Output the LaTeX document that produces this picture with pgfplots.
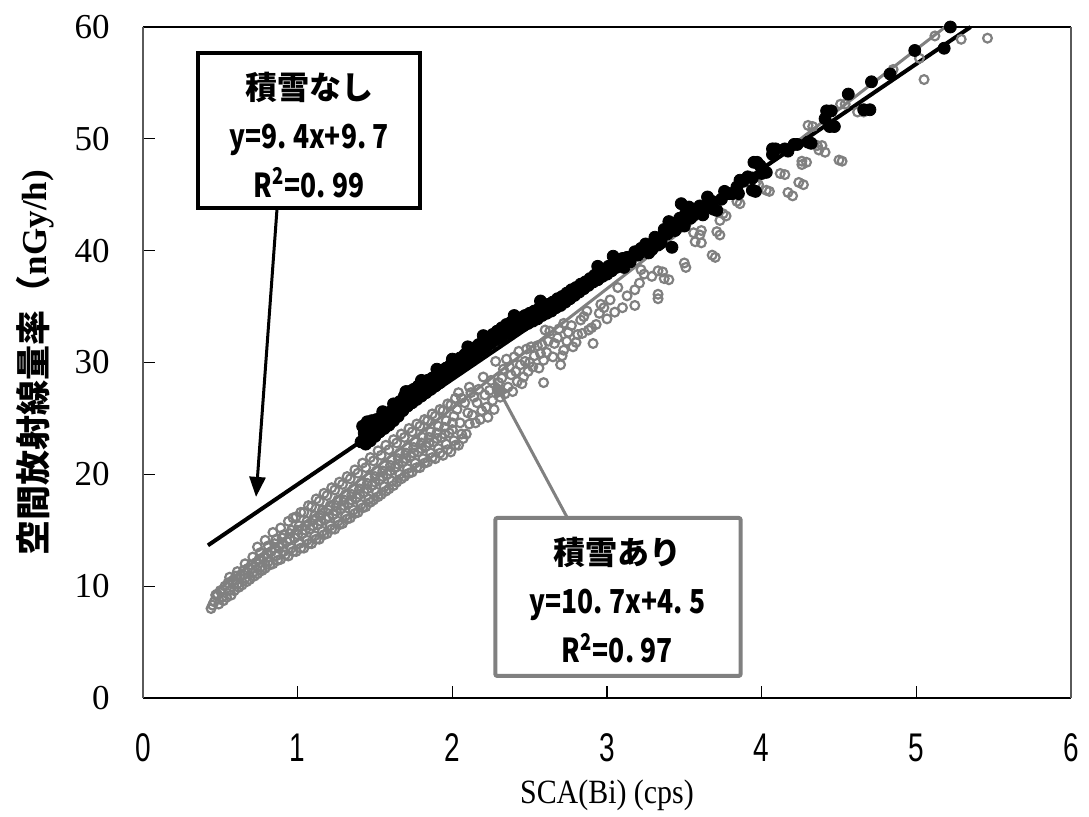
\documentclass[border=0pt]{standalone}
\usepackage{fontspec}
\setmainfont{Liberation Serif}
\newfontfamily\jp{Noto Sans CJK JP}
\newfontfamily\jpc{Noto Sans CJK JP}[FakeStretch=0.8]
\newfontfamily\tickf{Liberation Sans}[FakeStretch=0.7]
\newfontfamily\serifc{Liberation Serif}[FakeStretch=0.88]
\usepackage{pgfplots}
\pgfplotsset{compat=1.18}
\usetikzlibrary{arrows.meta}
\definecolor{grayc}{RGB}{128,128,128}
\begin{document}
\begin{tikzpicture}
\useasboundingbox (-71.5pt,-59.5pt) rectangle (473pt,349pt);
\begin{axis}[
  at={(0pt,0pt)}, anchor=south west,
  scale only axis, width=464pt, height=335.5pt,
  xmin=0, xmax=6, ymin=0, ymax=60,
  xtick={0,1,2,3,4,5,6}, ytick={0,10,20,30,40,50,60},
  xtick pos=bottom, ytick pos=left, tick align=inside,
  major tick length=6pt,
  tick style={black, line width=0.6pt},
  axis line style={draw=none},
  clip=false,
  /pgf/number format/assume math mode=true,
  xticklabel style={font=\tickf\fontsize{20}{22}\selectfont, anchor=center, yshift=-25pt},
  yticklabel style={font=\fontsize{17.5}{18}\selectfont, anchor=east, inner sep=0pt, xshift=-16.5pt},
  xlabel={{\serifc SCA(Bi) (cps)}},
  every axis x label/.style={at={(axis description cs:0.5,-0.1446)}, anchor=center, font=\fontsize{17}{18}\selectfont},
  ylabel={{\jp\bfseries 空間放射線量率（}{\bfseries nGy/h)}},
  every axis y label/.style={at={(axis description cs:-0.1164,0.50)}, rotate=90, anchor=center, font=\fontsize{17.5}{18}\selectfont},
]
% frame
\draw[black, line width=1pt] (rel axis cs:0,0) -- (rel axis cs:1,0);
\draw[black, line width=1pt] (rel axis cs:0,1) -- (rel axis cs:1,1);
\draw[grayc!70!black, line width=1pt] (rel axis cs:0,0) -- (rel axis cs:0,1);
\draw[grayc!70!black, line width=1pt] (rel axis cs:1,0) -- (rel axis cs:1,1);

% snow-covered (gray open circles)
\addplot[only marks, mark=o, mark size=2.2pt, grayc, mark options={line width=1.1pt}] coordinates {
(0.44,8.0)(0.46,8.6)(0.47,9.2)(0.45,8.3)
(0.49,8.4)(0.51,9.0)(0.50,9.6)(0.52,8.7)(0.48,9.3)
(0.54,9.0)(0.56,9.6)(0.55,10.3)(0.57,9.2)(0.53,10.0)(0.56,10.8)
(0.59,9.6)(0.61,10.2)(0.60,10.9)(0.62,9.9)(0.58,10.5)(0.61,11.3)
(0.64,10.1)(0.66,10.7)(0.65,11.4)(0.67,10.4)(0.63,11.0)(0.66,12.0)
(0.69,10.6)(0.71,11.2)(0.70,11.9)(0.72,10.9)(0.68,11.6)(0.71,12.6)
(0.74,11.1)(0.76,11.7)(0.75,12.4)(0.77,11.4)(0.73,12.1)(0.76,13.0)(0.74,13.5)
(0.79,11.6)(0.81,12.2)(0.80,12.9)(0.82,11.9)(0.78,12.6)(0.81,13.6)(0.79,14.1)
(0.84,12.0)(0.86,12.7)(0.85,13.4)(0.87,12.3)(0.83,13.1)(0.86,14.2)(0.84,14.8)(0.85,13.8)
(0.89,12.4)(0.91,13.1)(0.90,13.8)(0.92,12.8)(0.88,13.5)(0.91,14.6)(0.89,15.2)(0.90,14.3)
(0.94,12.7)(0.96,13.4)(0.95,14.2)(0.97,13.1)(0.93,14.0)(0.96,15.0)(0.94,15.8)(0.95,14.7)(0.97,16.1)
(0.99,13.1)(1.01,13.8)(1.00,14.6)(1.02,13.4)(0.98,14.3)(1.01,15.4)(0.99,16.2)(1.00,15.0)(1.02,16.6)
(1.04,13.4)(1.06,14.1)(1.05,15.0)(1.07,13.8)(1.03,14.7)(1.06,15.8)(1.04,16.6)(1.05,15.4)(1.07,17.2)
(1.09,13.8)(1.11,14.5)(1.10,15.4)(1.12,14.2)(1.08,15.1)(1.11,16.3)(1.09,17.1)(1.10,15.9)(1.12,17.8)
(1.14,14.2)(1.16,14.9)(1.15,15.8)(1.17,14.6)(1.13,15.5)(1.16,16.8)(1.14,17.6)(1.15,16.3)(1.17,18.3)
(1.19,14.7)(1.21,15.4)(1.20,16.2)(1.22,15.1)(1.18,16.0)(1.21,17.2)(1.19,18.1)(1.20,16.8)(1.22,18.8)
(1.24,15.1)(1.26,15.8)(1.25,16.7)(1.27,15.5)(1.23,16.4)(1.26,17.7)(1.24,18.6)(1.25,17.2)(1.27,19.3)
(1.29,15.6)(1.31,16.3)(1.30,17.2)(1.32,16.0)(1.28,16.9)(1.31,18.2)(1.29,19.1)(1.30,17.7)(1.32,19.8)
(1.34,16.1)(1.36,16.8)(1.35,17.7)(1.37,16.5)(1.33,17.4)(1.36,18.7)(1.34,19.6)(1.35,18.2)(1.37,20.4)
(1.39,16.6)(1.41,17.3)(1.40,18.2)(1.42,17.0)(1.38,17.9)(1.41,19.2)(1.39,20.1)(1.40,18.7)(1.42,21.0)
(1.44,17.1)(1.46,17.8)(1.45,18.7)(1.47,17.5)(1.43,18.4)(1.46,19.7)(1.44,20.6)(1.45,19.2)(1.47,21.5)
(1.49,17.7)(1.51,18.4)(1.50,19.3)(1.52,18.0)(1.48,19.0)(1.51,20.3)(1.49,21.2)(1.50,19.8)(1.52,22.1)
(1.54,18.2)(1.56,18.9)(1.55,19.8)(1.57,18.5)(1.53,19.5)(1.56,20.8)(1.54,21.7)(1.55,20.3)(1.57,22.6)
(1.59,18.7)(1.61,19.4)(1.60,20.3)(1.62,19.0)(1.58,20.0)(1.61,21.3)(1.59,22.2)(1.60,20.8)(1.62,23.1)
(1.64,19.3)(1.66,20.0)(1.65,20.9)(1.67,19.6)(1.63,20.6)(1.66,21.9)(1.64,22.8)(1.65,21.4)(1.67,23.6)
(1.69,19.8)(1.71,20.5)(1.70,21.4)(1.72,20.1)(1.68,21.1)(1.71,22.4)(1.69,23.3)(1.70,21.9)(1.72,24.1)
(1.74,20.2)(1.76,21.0)(1.75,21.9)(1.77,20.6)(1.73,21.6)(1.76,22.9)(1.74,23.8)(1.75,22.4)(1.77,24.5)
(1.79,20.6)(1.81,21.4)(1.80,22.3)(1.82,21.0)(1.78,22.0)(1.81,23.3)(1.79,24.3)(1.80,22.8)(1.82,24.9)
(1.84,21.1)(1.86,21.9)(1.85,22.8)(1.87,21.5)(1.83,22.5)(1.86,23.8)(1.84,24.8)(1.85,23.3)(1.87,25.4)
(1.89,21.4)(1.91,22.3)(1.90,23.2)(1.92,21.9)(1.88,22.9)(1.91,24.3)(1.89,25.2)(1.90,23.7)(1.92,25.8)
(1.94,21.7)(1.96,22.7)(1.95,23.6)(1.97,22.2)(1.93,23.3)(1.96,24.8)(1.94,25.7)(1.95,24.2)(1.97,26.3)
(1.99,22.0)(2.01,23.0)(2.00,24.0)(2.02,22.6)(1.98,23.7)(2.01,25.2)(1.99,26.2)(2.00,24.6)(2.02,26.8)
(2.04,22.6)(2.06,23.6)(2.05,24.6)(2.07,23.2)(2.03,25.8)(2.06,26.8)(2.04,27.3)
(2.09,23.6)(2.11,24.5)(2.10,25.5)(2.12,27.3)(2.08,26.4)(2.11,27.8)
(2.13,25.3)(2.14,26.9)(2.15,24.6)(2.17,27.6)(2.19,25.7)(2.21,27.1)(2.23,25.1)(2.25,28.4)
(2.26,26.6)(2.29,27.6)(2.32,28.6)(2.34,27.2)(2.35,30.3)(2.37,29.6)(2.39,27.4)(2.41,29.2)
(2.43,31.0)(2.45,28.1)(2.47,30.1)(2.49,29.2)(2.51,31.4)(2.53,30.6)(2.56,29.5)(2.58,31.6)
(2.61,30.9)(2.63,32.8)(2.66,31.7)(2.69,33.0)(2.71,30.6)(2.74,31.9)(2.77,33.3)(2.80,31.8)
(2.84,32.6)(2.87,34.6)(2.90,33.1)(2.98,34.9)
(2.16,26.4)(2.18,24.9)(2.20,28.7)(2.22,26.0)(2.24,27.5)(2.27,25.8)(2.28,30.1)(2.30,28.2)
(2.31,26.9)(2.33,29.4)(2.36,27.8)(2.38,28.9)(2.40,30.5)(2.42,28.3)(2.44,29.8)(2.46,28.7)
(2.48,31.2)(2.50,30.0)(2.52,29.6)(2.55,31.5)(2.57,30.8)(2.59,28.2)(2.59,30.2)(2.60,32.9)
(2.62,31.9)(2.65,30.5)(2.68,32.2)(2.70,29.8)(2.72,31.1)(2.72,33.5)(2.75,32.7)(2.78,31.4)
(2.81,32.5)(2.83,33.8)(2.85,34.1)(2.88,32.9)(2.91,31.7)(2.93,33.4)(2.95,34.4)(2.96,35.2)
(3.00,33.9)(3.02,35.6)(3.05,34.5)(3.07,36.7)(3.10,34.9)(3.13,35.96)(3.18,35.1)(3.18,36.5)
(3.21,37.1)(3.22,38.3)(3.24,37.9)(3.29,37.7)(3.33,38.2)(3.33,36.1)(3.33,35.7)(3.36,38.1)
(3.37,37.5)(3.40,37.4)(3.50,38.9)(3.51,38.5)(3.56,41.6)(3.57,40.8)(3.60,41.4)(3.61,40.7)
(3.61,41.8)(3.68,39.6)(3.70,39.4)(3.71,41.7)(3.73,41.4)(3.73,42.7)(3.75,43.3)(3.77,43.1)
(3.84,44.4)(3.86,44.2)(3.96,46.0)(3.98,45.9)(4.03,45.4)(4.05,45.3)(4.12,46.9)(4.15,46.8)
(4.17,45.2)(4.20,44.9)(4.24,46.1)(4.26,48.0)(4.26,47.7)(4.27,45.9)(4.29,47.9)(4.30,51.2)
(4.33,51.1)(4.36,49.4)(4.37,49.0)(4.39,49.4)(4.41,48.8)(4.50,48.1)(4.51,53.1)(4.52,48.0)
(4.54,53.1)(4.62,52.4)(4.66,52.4)(4.85,56.2)(5.02,57.2)(5.05,55.3)(5.12,59.2)(5.29,58.9)(5.46,59.0)
};
\addplot[grayc, line width=1.5pt] coordinates {(0.45,9.315)(5.187,60)};

% no snow (black filled dots)
\addplot[only marks, mark=*, mark size=3pt, black] coordinates {
(1.41,22.9)(1.43,23.7)(1.42,24.3)(1.44,22.7)(1.46,23.8)(1.45,24.7)
(1.47,23.0)(1.49,24.0)(1.48,24.8)(1.50,23.4)(1.52,24.3)(1.51,24.9)
(1.53,23.8)(1.55,24.5)(1.54,25.1)(1.56,24.1)(1.58,24.8)(1.57,25.3)
(1.59,24.4)(1.61,25.0)(1.60,25.6)(1.62,24.8)(1.64,25.4)(1.63,26.0)
(1.65,25.2)(1.67,25.8)(1.66,26.5)(1.68,25.7)(1.70,26.3)(1.69,27.0)
(1.71,26.1)(1.73,26.8)(1.72,27.4)(1.74,26.4)(1.76,27.0)(1.75,27.6)
(1.77,26.7)(1.79,27.3)(1.78,27.9)(1.80,27.0)(1.82,27.5)(1.81,28.1)
(1.83,27.3)(1.85,27.9)(1.84,28.4)(1.86,27.6)(1.88,28.1)(1.87,28.6)
(1.89,27.9)(1.91,28.4)(1.90,28.9)(1.92,28.2)(1.94,28.8)(1.93,29.2)
(1.95,28.6)(1.97,29.1)(1.96,29.5)(1.98,29.0)(2.00,29.5)(1.99,29.8)
(2.01,29.3)(2.03,29.8)(2.02,30.2)(2.04,29.6)(2.06,30.0)(2.05,30.4)
(2.07,29.9)(2.09,30.3)(2.08,30.7)(2.10,30.2)(2.12,30.6)(2.11,31.0)
(2.13,30.5)(2.15,31.0)(2.14,31.3)(2.16,30.8)(2.18,31.3)(2.17,31.6)
(2.19,31.1)(2.21,31.5)(2.20,31.9)(2.22,31.4)(2.24,31.9)(2.23,32.2)
(2.25,31.7)(2.27,32.2)(2.26,32.5)(2.28,32.0)(2.30,32.5)(2.29,32.8)
(2.31,32.2)(2.33,32.7)(2.32,33.1)(2.34,32.5)(2.36,33.0)(2.35,33.4)
(2.37,32.7)(2.39,33.2)(2.38,33.6)(2.40,32.9)(2.42,33.4)(2.41,33.8)
(2.43,33.1)(2.45,33.6)(2.44,34.0)(2.46,33.3)(2.48,33.8)(2.47,34.2)
(2.49,33.5)(2.51,34.0)(2.50,34.4)(2.52,33.7)(2.54,34.2)(2.53,34.6)
(2.55,33.9)(2.57,34.4)(2.56,34.8)(2.58,34.2)(2.60,34.6)(2.59,35.0)
(2.61,34.4)(2.63,34.8)(2.62,35.2)(2.64,34.6)(2.66,35.1)(2.65,35.4)
(2.67,34.9)(2.69,35.3)(2.68,35.7)(2.70,35.1)(2.72,35.6)(2.71,35.9)
(2.73,35.4)(2.75,35.8)(2.74,36.2)(2.76,35.7)(2.78,36.1)(2.77,36.5)
(2.79,36.0)(2.81,36.4)(2.80,36.7)(2.82,36.3)(2.84,36.7)(2.83,37.0)
(2.85,36.6)(2.87,36.9)(2.86,37.2)(2.88,36.9)(2.90,37.2)(2.89,37.5)
(2.91,37.2)(2.93,37.5)(2.92,37.8)(2.94,37.4)(2.96,37.7)(2.95,38.0)
(2.97,37.7)(2.99,38.0)(2.98,38.3)(3.00,37.9)(3.02,38.2)(3.01,38.6)
(3.03,38.2)(3.05,38.5)(3.04,38.8)(3.06,38.5)(3.08,38.8)(3.07,39.1)
(3.09,38.8)(3.10,39.3)(2.94,38.6)(3.04,39.5)(2.10,31.4)(2.57,35.5)
(1.55,25.6)(1.62,26.3)(1.70,27.4)(1.80,28.4)(1.90,29.4)(2.00,30.3)(2.20,32.4)(2.40,34.2)
(3.11,38.5)(3.13,39.4)(3.15,39.0)(3.18,39.9)(3.20,39.6)(3.22,40.2)(3.25,40.6)(3.27,39.8)
(3.29,40.1)(3.31,41.2)(3.33,40.5)(3.35,40.7)(3.36,41.3)(3.37,41.9)(3.39,41.5)(3.40,42.6)
(3.42,42.0)(3.42,40.3)(3.44,41.8)(3.45,42.5)(3.47,42.9)(3.48,44.2)(3.50,42.2)(3.51,43.4)
(3.53,43.9)(3.54,42.9)(3.56,43.2)(3.58,43.7)(3.60,44.0)(3.62,43.2)(3.63,43.9)(3.65,44.8)
(3.67,44.4)(3.68,44.4)(3.69,43.7)(3.71,43.6)(3.74,44.6)(3.76,45.3)(3.79,45.1)(3.81,45.1)
(3.84,45.7)(3.85,45.1)(3.86,46.3)(3.88,46.2)(3.91,46.6)(3.94,46.5)(3.94,45.4)(3.95,47.9)
(3.96,45.3)(3.97,47.9)(3.99,47.6)(4.00,46.9)(4.03,47.0)(4.07,49.1)(4.07,48.6)(4.09,49.1)
(4.15,49.1)(4.17,48.9)(4.21,49.5)(4.23,49.5)(4.30,49.7)(4.32,49.6)(4.41,51.8)(4.42,52.5)
(4.44,51.1)(4.45,52.5)(4.47,51.1)(4.56,54.0)(4.66,52.6)(4.70,52.6)(4.71,55.1)(4.83,55.8)
(4.99,57.9)(5.18,58.1)(5.22,60.0)
};
\addplot[black, line width=2pt] coordinates {(0.42,13.648)(5.351,60)};

% annotation boxes
\draw[black, line width=2pt, fill=white] (axis cs:0.356,43.8) rectangle (axis cs:1.793,57.7);
\node[font=\jp\bfseries\fontsize{16}{16}\selectfont] at (axis cs:1.074,54.56) {積雪なし};
\node[font=\jpc\bfseries\fontsize{16.5}{16}\selectfont] at (axis cs:1.074,49.9) {y=9.\kern.2em4x+9.\kern.2em7};
\node[font=\jpc\bfseries\fontsize{16.5}{16}\selectfont] at (axis cs:1.074,46.06) {R\textsuperscript{2}=0.\kern.2em99};
\draw[black, line width=1.5pt, -{Triangle[width=8pt,length=10pt]}] (axis cs:0.867,43.83) -- (axis cs:0.731,17.98);

\draw[grayc, line width=2pt, fill=white, rounded corners=1pt] (axis cs:2.278,1.97) rectangle (axis cs:3.864,16.1);
\node[font=\jp\bfseries\fontsize{16}{16}\selectfont] at (axis cs:3.068,13.06) {積雪あり};
\node[font=\jpc\bfseries\fontsize{16.5}{16}\selectfont] at (axis cs:3.068,8.32) {y=10.\kern.2em7x+4.\kern.2em5};
\node[font=\jpc\bfseries\fontsize{16.5}{16}\selectfont] at (axis cs:3.068,4.47) {R\textsuperscript{2}=0.\kern.2em97};
\draw[grayc, line width=1.5pt, -{Triangle[width=8pt,length=10pt]}] (axis cs:2.744,16.1) -- (axis cs:2.259,28.6);
\end{axis}
\end{tikzpicture}
\end{document}
